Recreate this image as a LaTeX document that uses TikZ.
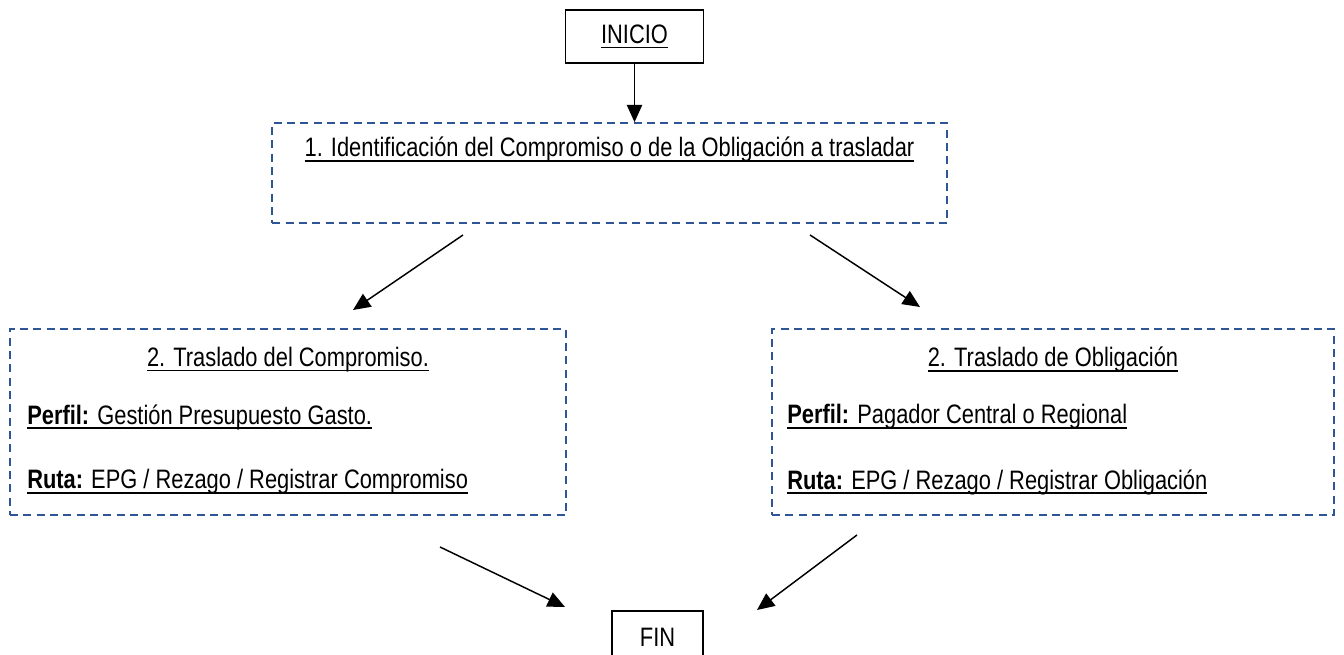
\documentclass[tikz,border=0pt]{standalone}
\usepackage{fontspec}
\setmainfont{Liberation Sans}[FakeStretch=0.82]
\usepackage{tikz}
\usetikzlibrary{positioning,arrows.meta}

\definecolor{azulborde}{HTML}{2F5597}
% subrayado grueso como en el original
\newcommand{\subr}[1]{\begingroup\setbox0\hbox{#1}\leavevmode\rlap{\vrule height -2.4pt depth 3.6pt width \wd0}\box0\endgroup}

\begin{document}
\begin{tikzpicture}[x=0.75pt, y=-0.75pt, font=\fontsize{20}{24}\selectfont,
    caja/.style={draw, line width=1.2pt, rectangle, inner sep=0pt},
    proceso/.style={draw=azulborde, line width=1.2pt, dash pattern=on 6pt off 4pt, rectangle, inner sep=0pt},
    texto/.style={inner sep=0pt},
    flecha/.style={-{Triangle[length=13pt, width=11.5pt]}, line width=1.1pt}]
    \useasboundingbox (0,0) rectangle (1344,655);

    \node[caja, minimum width=103.5pt, minimum height=39.75pt] (inicio) at (634.5,36.5) {\subr{INICIO}};
    \node[proceso, minimum width=506pt, minimum height=75pt] (ident) at (609.5,173) {};
    \node[texto, below=11pt of ident.north] (tident) {\subr{1. Identificación del Compromiso o de la Obligación a trasladar}};

    \node[proceso, minimum width=417pt, minimum height=139.5pt] (compromiso) at (288,422) {};
    \node[texto, below=14pt of compromiso.north] (tcompromiso) {\subr{2. Traslado del Compromiso.}};
    \node[texto, anchor=west] (perfilc) at (27,417) {\subr{\textbf{Perfil:} Gestión Presupuesto Gasto.}};
    \node[texto, anchor=west] (rutac) at (27,482) {\subr{\textbf{Ruta:} EPG / Rezago / Registrar Compromiso}};

    \node[proceso, minimum width=421.5pt, minimum height=139.5pt] (obligacion) at (1053,422) {};
    \node[texto, below=14pt of obligacion.north] (tobligacion) {\subr{2. Traslado de Obligación}};
    \node[texto, anchor=west] (perfilo) at (787,417) {\subr{\textbf{Perfil:} Pagador Central o Regional}};
    \node[texto, anchor=west] (rutao) at (787,482) {\subr{\textbf{Ruta:} EPG / Rezago / Registrar Obligación}};

    \node[caja, minimum width=68pt, minimum height=40pt] (fin) at (657.5,637.5) {FIN};

    % extremos sueltos de las flechas
    \coordinate (sal1) at (463,235);
    \coordinate (lleg1) at (353,310);
    \coordinate (sal2) at (810,235);
    \coordinate (lleg2) at (920,307);
    \coordinate (sal3) at (440,547);
    \coordinate (lleg3) at (565,607);
    \coordinate (sal4) at (857,535);
    \coordinate (lleg4) at (757,610);

    \draw[flecha] (inicio.south) -- (inicio.south |- ident.north);
    \draw[flecha] (sal1) -- (lleg1);
    \draw[flecha] (sal2) -- (lleg2);
    \draw[flecha] (sal3) -- (lleg3);
    \draw[flecha] (sal4) -- (lleg4);
\end{tikzpicture}
\end{document}
